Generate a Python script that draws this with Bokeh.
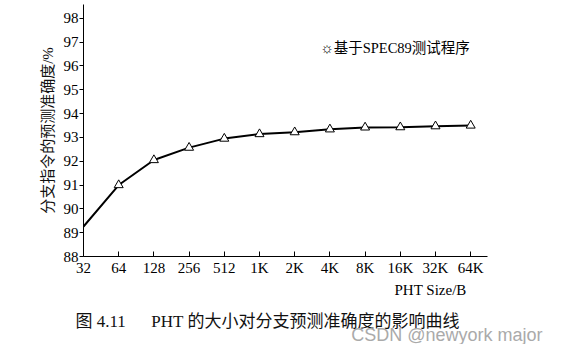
from bokeh.plotting import figure
from bokeh.models import FixedTicker, Label, Range1d, Title
from bokeh.embed import file_html
from bokeh.resources import INLINE

categories = ["32", "64", "128", "256", "512", "1K", "2K", "4K", "8K", "16K", "32K", "64K"]
accuracy = [89.26, 91.0, 92.05, 92.57, 92.95, 93.14, 93.22, 93.34, 93.42, 93.43, 93.47, 93.5]
y_ticks = [88, 89, 90, 91, 92, 93, 94, 95, 96, 97, 98]
legend_text = "☼基于SPEC89测试程序"
y_label = "分支指令的预测准确度/%"
x_label = "PHT Size/B"
caption = "图\u00a04.11\u3000\u00a0\u00a0PHT 的大小对分支预测准确度的影响曲线"
watermark = "CSDN @newyork major"

xs = list(range(len(categories)))

SERIF = "Liberation Serif, Noto Sans CJK SC"

p = figure(width=550, height=344, output_backend="svg", toolbar_location=None,
           x_range=Range1d(0, 13.125), y_range=Range1d(88, 98.58),
           min_border_left=83, min_border_right=5, min_border_top=4, min_border_bottom=88)
p.outline_line_color = None
p.xgrid.visible = False
p.ygrid.visible = False
p.background_fill_color = "white"
p.border_fill_color = "white"

p.line(xs, accuracy, line_color="black", line_width=2)
p.scatter(xs[1:], accuracy[1:], marker="triangle", size=9, fill_color="white",
          line_color="black", line_width=1)

xa = p.xaxis[0]
xa.bounds = (0, 11.48)
xa.ticker = FixedTicker(ticks=xs)
xa.major_label_overrides = {i: c for i, c in enumerate(categories)}
xa.major_tick_in = 5
xa.major_tick_out = 0
xa.minor_tick_in = 0
xa.minor_tick_out = 0
xa.major_label_standoff = 3
xa.major_label_text_font = SERIF
xa.major_label_text_font_size = "15px"
xa.major_label_text_color = "black"
xa.axis_line_color = "black"
xa.major_tick_line_color = "black"

ya = p.yaxis[0]
ya.ticker = FixedTicker(ticks=y_ticks)
ya.major_tick_in = 0
ya.major_tick_out = 4
ya.minor_tick_in = 0
ya.minor_tick_out = 0
ya.major_label_standoff = 1
ya.major_label_text_font = SERIF
ya.major_label_text_font_size = "15px"
ya.major_label_text_color = "black"
ya.axis_label = y_label
ya.axis_label_text_font = SERIF
ya.axis_label_text_font_size = "15px"
ya.axis_label_text_font_style = "normal"
ya.axis_label_text_color = "#111111"
ya.axis_label_standoff = 5
ya.axis_line_color = "black"
ya.major_tick_line_color = "black"

p.add_layout(Label(x=6.73, y=96.77, text=legend_text, text_font=SERIF,
                   text_font_size="14.5px", text_baseline="middle", text_align="left",
                   text_color="black"))

p.add_layout(Title(text=x_label, align="left", offset=311, standoff=3,
                   text_font=SERIF, text_font_size="15px", text_font_style="normal",
                   text_color="black"), "below")
p.add_layout(Title(text=caption, align="left", offset=-8, standoff=20,
                   text_font=SERIF, text_font_size="17px", text_font_style="normal",
                   text_color="#111111"), "below")
p.add_layout(Title(text=watermark, align="right", offset=3, standoff=-32,
                   vertical_align="top",
                   text_font="Liberation Sans", text_font_size="18px", text_font_style="normal",
                   text_color="#aaaaaa"), "below")

open("out.html", "w").write(file_html(p, INLINE))
